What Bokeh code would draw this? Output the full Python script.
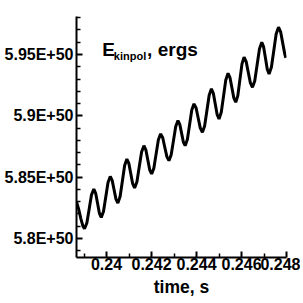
from bokeh.plotting import figure
from bokeh.models import Range1d, FixedTicker, CustomJSTickFormatter, Label, ColumnDataSource
from bokeh.embed import file_html
from bokeh.resources import INLINE

# time, s
time_s = [
    0.238664, 0.238760, 0.238860, 0.238950, 0.239020,
    0.239124, 0.239228, 0.239331, 0.239435,
    0.239517, 0.239600, 0.239682, 0.239764,
    0.239864, 0.239965, 0.240065, 0.240165,
    0.240250, 0.240334, 0.240419, 0.240503,
    0.240603, 0.240704, 0.240804, 0.240904,
    0.240990, 0.241076, 0.241161, 0.241247,
    0.241351, 0.241454, 0.241558, 0.241661,
    0.241747, 0.241833, 0.241918, 0.242004,
    0.242104, 0.242204, 0.242304, 0.242404,
    0.242497, 0.242589, 0.242682, 0.242774,
    0.242874, 0.242975, 0.243075, 0.243175,
    0.243255, 0.243335, 0.243415, 0.243495,
    0.243593, 0.243691, 0.243789, 0.243887,
    0.243981, 0.244074, 0.244168, 0.244261,
    0.244361, 0.244462, 0.244562, 0.244662,
    0.244747, 0.244831, 0.244916, 0.245000,
    0.245100, 0.245201, 0.245301, 0.245401,
    0.245487, 0.245573, 0.245658, 0.245744,
    0.245836, 0.245929, 0.246021, 0.246113,
    0.246207, 0.246300, 0.246394, 0.246487,
    0.246591, 0.246694, 0.246798, 0.246901,
    0.246982, 0.247064, 0.247145, 0.247226,
    0.247331, 0.247436, 0.247540, 0.247645,
    0.247739, 0.247832, 0.247926, 0.247970,
]

# E_kinpol in units of 1E+50 ergs
e_kinpol = [
    5.8300, 5.8240, 5.8160, 5.8100, 5.8079,
    5.8126, 5.8241, 5.8356, 5.8403,
    5.8369, 5.8287, 5.8205, 5.8171,
    5.8220, 5.8339, 5.8457, 5.8506,
    5.8474, 5.8398, 5.8321, 5.8289,
    5.8342, 5.8469, 5.8595, 5.8648,
    5.8613, 5.8530, 5.8447, 5.8412,
    5.8463, 5.8585, 5.8706, 5.8757,
    5.8723, 5.8642, 5.8560, 5.8526,
    5.8574, 5.8690, 5.8805, 5.8853,
    5.8821, 5.8744, 5.8667, 5.8635,
    5.8683, 5.8798, 5.8913, 5.8961,
    5.8931, 5.8859, 5.8787, 5.8757,
    5.8807, 5.8928, 5.9048, 5.9098,
    5.9064, 5.8982, 5.8900, 5.8866,
    5.8918, 5.9043, 5.9168, 5.9220,
    5.9184, 5.9098, 5.9011, 5.8975,
    5.9029, 5.9161, 5.9293, 5.9347,
    5.9312, 5.9229, 5.9146, 5.9111,
    5.9165, 5.9295, 5.9424, 5.9478,
    5.9442, 5.9356, 5.9269, 5.9233,
    5.9287, 5.9417, 5.9546, 5.9600,
    5.9562, 5.9471, 5.9380, 5.9342,
    5.9398, 5.9533, 5.9667, 5.9723,
    5.9685, 5.9593, 5.9501, 5.9473,
]

x_ticks = [0.240, 0.242, 0.244, 0.246, 0.248]
x_minor = [0.239, 0.241, 0.243, 0.245, 0.247]
y_ticks = [5.80, 5.85, 5.90, 5.95]
y_minor = [5.79, 5.81, 5.82, 5.83, 5.84, 5.86, 5.87, 5.88, 5.89,
           5.91, 5.92, 5.93, 5.94, 5.96, 5.97, 5.98]

FONT = "Liberation Sans"

p = figure(width=300, height=303, output_backend="svg", toolbar_location=None,
           x_range=Range1d(0.238664, 0.248), y_range=Range1d(5.7845, 5.981),
           min_border_left=76, min_border_right=14, min_border_top=16, min_border_bottom=46)
p.outline_line_color = None
p.xgrid.visible = False
p.ygrid.visible = False
p.background_fill_color = "white"
p.border_fill_color = "white"

src = ColumnDataSource(dict(t=time_s, e=e_kinpol))
p.line("t", "e", source=src, line_color="black", line_width=3)

for ax in (p.xaxis[0], p.yaxis[0]):
    ax.axis_line_width = 2
    ax.axis_line_color = "black"
    ax.major_tick_in = 6
    ax.major_tick_out = 0
    ax.minor_tick_in = 4
    ax.minor_tick_out = 0
    ax.major_tick_line_width = 2
    ax.minor_tick_line_width = 1.5
    ax.major_tick_line_color = "black"
    ax.minor_tick_line_color = "black"
    ax.major_label_text_font = FONT
    ax.major_label_text_font_style = "bold"
    ax.major_label_text_font_size = "16px"
    ax.major_label_text_color = "black"

p.xaxis.ticker = FixedTicker(ticks=x_ticks, minor_ticks=x_minor)
p.yaxis.ticker = FixedTicker(ticks=y_ticks, minor_ticks=y_minor)
p.xaxis.formatter = CustomJSTickFormatter(code="return String(Number(tick.toFixed(3)));")
p.yaxis.formatter = CustomJSTickFormatter(code="return tick.toFixed(2).replace(/0$/, '') + 'E+50';")
p.yaxis.major_label_standoff = 3
p.xaxis.major_label_standoff = 0

p.xaxis.axis_label = "time, s"
p.xaxis.axis_label_text_font = FONT
p.xaxis.axis_label_text_font_style = "bold"
p.xaxis.axis_label_text_font_size = "17.5px"
p.xaxis.axis_label_text_color = "black"
p.xaxis.axis_label_standoff = 4

p.add_layout(Label(x=0.239809, y=5.95385, text="E", text_font=FONT, text_font_style="bold",
                   text_font_size="19px", text_baseline="alphabetic", text_align="left",
                   text_color="black"))
p.add_layout(Label(x=0.240325, y=5.94919, text="kinpol", text_font=FONT, text_font_style="bold",
                   text_font_size="11px", text_baseline="alphabetic", text_align="left",
                   text_color="black"))
p.add_layout(Label(x=0.241803, y=5.95385, text=", ergs", text_font=FONT, text_font_style="bold",
                   text_font_size="19px", text_baseline="alphabetic", text_align="left",
                   text_color="black"))

open("out.html", "w").write(file_html(p, INLINE))
